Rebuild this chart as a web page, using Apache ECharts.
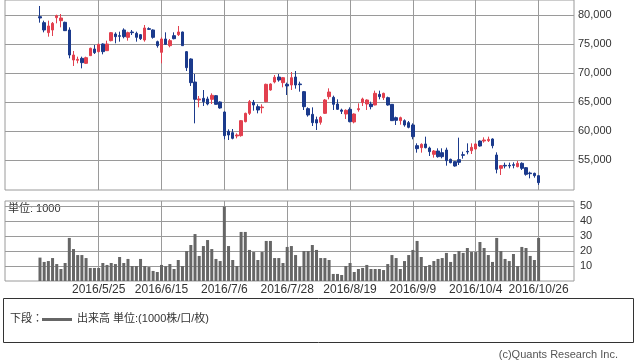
<!DOCTYPE html>
<html><head><meta charset="utf-8">
<script src="https://cdn.jsdelivr.net/npm/echarts@6/dist/echarts.min.js"></script>
<style>html,body{margin:0;padding:0;background:#fff}#c{width:638px;height:362px}</style>
</head><body><div id="c"></div>
<script>
const opens = [79712,78678,76954,77414,79540,79023,78736,77414,72241,72184,
72529,71667,72988,74138,73678,75000,73851,75575,76724,76437,
77414,76149,77069,76839,76609,75690,77644,77414,75402,73563,
75862,74713,76437,76609,77069,73678,72414,68448,65345,65632,
65518,65460,66092,65000,63276,59943,59713,59139,59196,61609,
63046,64943,64196,64023,65058,67069,68448,69310,68334,68046,
67931,69310,68104,66782,63851,62874,61954,61494,63046,65920,
65805,64655,63621,62931,63736,61552,63679,64885,64655,64655,
64483,66322,65747,65747,64598,62299,61782,61782,61437,61035,
57471,57126,57759,57069,55977,56552,56264,56724,55115,54713,
55058,55920,56495,56609,56897,58276,58276,58334,58621,55862,
53564,54081,54081,54196,53851,54426,53679,52759,52702,52299];
const closes = [79483,77414,78104,78563,79885,79483,77299,73104,73104,72356,
71782,72644,74253,73506,74942,73678,75000,76954,76264,76322,
76264,76954,76954,76149,75920,77759,77529,76149,74713,75862,
74942,75575,75920,77069,74713,70920,68334,65460,65518,65058,
64655,66150,64598,63966,59196,59311,58736,59311,61782,63046,
65058,64483,63621,64138,68046,68104,69253,68793,69196,67759,
69196,67931,67989,64196,62759,61437,61380,62356,65345,66724,
64598,63736,63391,63563,61609,62931,63851,65518,65345,64196,
66495,65920,66495,64483,61782,61839,62299,61035,60632,59023,
56954,57701,57126,56437,56552,55575,55575,54885,54541,53966,
54598,55805,56380,57184,57759,57414,58449,58564,57471,53391,
54024,53966,53966,54081,54426,53564,52529,52644,52299,51092];
const lows = [78678,77011,76264,76379,78563,77874,77241,72529,71207,71667,
70805,71552,72931,73276,73563,73219,73793,75460,75115,75402,
75977,75575,76552,75402,75690,75402,77414,75920,74368,71667,
74828,74425,75805,76379,74655,70345,67759,61322,64081,64311,
64426,64655,64541,63851,58564,58448,58564,58736,59023,61494,
62759,63506,63046,63046,64943,66954,68219,68506,67529,66207,
67069,67299,66782,63621,62474,60862,60173,61092,62931,65460,
63621,63621,62931,62069,61494,61322,63334,64311,63621,63736,
64426,65460,65345,64368,61724,61035,61092,60747,60460,58564,
56264,56264,57012,55690,55403,55403,55288,54024,54426,53851,
54138,55230,55977,56035,56782,57299,57989,58104,57012,52702,
52414,53564,53564,53564,53737,53276,52299,51840,51954,50690];
const highs = [81552,79023,79023,78793,80057,80172,78851,77874,73793,72816,
72816,72816,74368,74828,75058,75115,75575,77069,77011,77126,
77701,77126,77414,77126,76724,78276,77874,77529,75575,76149,
77011,75862,77011,78104,77126,73793,72529,69828,66035,67069,
65920,66495,66207,65115,63391,60288,60345,59598,61897,63161,
65345,65345,64598,64598,68161,68219,69655,69828,69310,68334,
70172,70345,68506,66897,64081,64081,62474,62586,65518,67357,
66092,65460,63851,63736,64081,63046,64770,65747,65460,65058,
66954,66954,66610,65920,64655,62474,62474,62012,61724,61322,
57874,57874,59023,57299,56724,57012,57012,57126,55230,54828,
58851,56437,57874,57874,57874,58391,58908,59023,58736,56322,
54138,54541,54541,54598,54828,54598,53793,52989,52816,52414];
const volumes = [15.6,12.7,13.3,15.3,11.3,8,12,28.7,21.3,17.3,
17.3,15.3,8.7,8.7,8.7,12,10.7,12,11.3,16,
12,14.7,10,10,14.7,10,9.3,6.7,6,10.7,
9.8,11.3,8,14,10,20,24,31.3,16.7,23.3,
27.3,21.3,14.7,13.3,49.6,23.3,14,10,32.7,32.7,
20.7,19.3,14,19.3,26.7,26.7,15.3,15.3,12,22.7,
23.3,17.3,9.6,20,20,24,20.7,15.3,15.3,14,
4.7,4.7,4,10,12,6,8,8.7,10.7,8,
8,8,7.3,11.3,17.3,15.3,8,13.3,17.3,20.7,
26.7,16,10,10.7,13.3,14.7,15.3,18.7,12.7,18,
20,18.7,22,19.3,19.3,26,22,17.3,12.7,28.7,
20,14.7,13.3,18,10,22.7,22,16.7,14,28.7];
const tickIndex = [14,29,44,59,74,89,104,119];
const tickLabels = ['2016/5/25','2016/6/15','2016/7/6','2016/7/28','2016/8/19','2016/9/9','2016/10/4','2016/10/26'];
const priceTicks = [55000,60000,65000,70000,75000,80000];
const volTicks = [10,20,30,40,50];

const FONT = '"Liberation Sans","Noto Sans CJK JP",sans-serif';
const GRID = '#9a9a9a';
const candleData = opens.map((o,i)=>[i,o,closes[i],lows[i],highs[i]]);
const volData = volumes.map((v,i)=>[i,v]);
const fmt = v => String(v).replace(/\B(?=(\d{3})+(?!\d))/g, ',');

const chart = echarts.init(document.getElementById('c'), null, {renderer:'canvas'});
const xBase = (gi) => ({
  type:'value', gridIndex:gi, min:-8.35, max:127.45,
  axisLine:{show:false},
  axisTick:{show:false, customValues:tickIndex},
  axisLabel:{show:gi===1, customValues:tickIndex, margin:3, fontSize:12, color:'#333', fontFamily:FONT,
    formatter:(v)=>{const k=tickIndex.indexOf(Math.round(v));return k>=0?tickLabels[k]:'';}},
  splitLine:{show:true, lineStyle:{color:GRID, width:1}}
});
chart.setOption({
  animation:false,
  grid:[
    {left:5, width:569, top:0, height:190, show:true, borderColor:GRID, borderWidth:1, outerBoundsMode:'none', containLabel:false},
    {left:5, width:569, top:201, height:80, show:true, borderColor:GRID, borderWidth:1, outerBoundsMode:'none', containLabel:false}
  ],
  xAxis:[xBase(0), xBase(1)],
  yAxis:[
    {type:'value', gridIndex:0, position:'right', min:49828, max:82586,
     axisLine:{show:false},
     axisTick:{show:true, length:6, customValues:priceTicks, lineStyle:{color:GRID}},
     axisLabel:{customValues:priceTicks, margin:4, fontSize:11, color:'#333', fontFamily:FONT, formatter:fmt},
     splitLine:{show:true, lineStyle:{color:GRID, width:1}}},
    {type:'value', gridIndex:1, position:'right', min:0, max:53.33,
     axisLine:{show:false},
     axisTick:{show:true, length:6, customValues:volTicks, lineStyle:{color:GRID}},
     axisLabel:{customValues:volTicks, margin:6, fontSize:11, color:'#333', fontFamily:FONT},
     splitLine:{show:true, lineStyle:{color:GRID, width:1}}}
  ],
  series:[
    {type:'candlestick', xAxisIndex:0, yAxisIndex:0, data:candleData, encode:{x:0, y:[1,2,3,4]},
     barWidth:3,
     itemStyle:{color:'#e2404f', color0:'#1b3a8c', borderColor:'#e2404f', borderColor0:'#1b3a8c', borderWidth:1}},
    {type:'bar', xAxisIndex:1, yAxisIndex:1, data:volData, barWidth:3, itemStyle:{color:'#666666'}}
  ],
  graphic:[
    {type:'text', left:8, top:203, style:{text:'単位: 1000', fontSize:11, fill:'#333', fontFamily:FONT}},
    {type:'rect', shape:{x:3.5, y:298.5, width:630, height:44}, style:{fill:'none', stroke:'#333', lineWidth:1}},
    {type:'text', left:10, top:313, style:{text:'下段：', fontSize:11, fill:'#333', fontFamily:FONT}},
    {type:'line', shape:{x1:42, y1:319.5, x2:72, y2:319.5}, style:{stroke:'#666', lineWidth:3}},
    {type:'text', left:77, top:313, style:{text:'出来高 単位:(1000株/口/枚)', fontSize:11, fill:'#333', fontFamily:FONT}},
    {type:'text', right:20, top:349, style:{text:'(c)Quants Research Inc.', fontSize:11, fill:'#555', fontFamily:FONT}}
  ]
});
</script></body></html>
